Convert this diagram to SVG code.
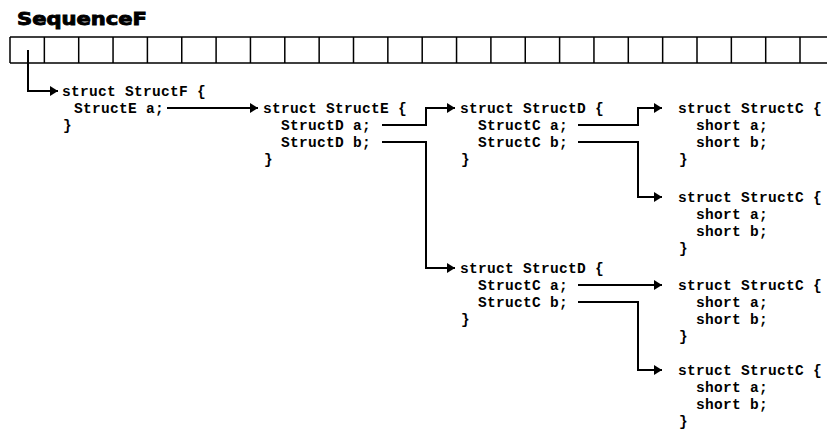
<svg xmlns="http://www.w3.org/2000/svg" width="827" height="434" viewBox="0 0 827 434">
<style>
.t{font-family:"Liberation Mono","DejaVu Sans Mono",monospace;font-weight:bold;font-size:14.5px;letter-spacing:0.3px;fill:#000}
.title{font-family:"DejaVu Sans","Liberation Sans",sans-serif;font-weight:bold;font-size:18px;fill:#000;stroke:#000;stroke-width:0.9}
.c{fill:none;stroke:#000;stroke-width:2}
.bar{fill:none;stroke:#000;stroke-width:1.5}
</style>
<defs>
<marker id="ah" markerUnits="userSpaceOnUse" markerWidth="9" markerHeight="11" refX="8" refY="5.5" orient="auto">
<path d="M0,0.5 L8,5.5 L0,10.5 z" fill="#000"/>
</marker>
</defs>
<rect width="827" height="434" fill="#fff"/>
<text class="title" x="17" y="25" textLength="130" lengthAdjust="spacingAndGlyphs">SequenceF</text>
<g id="sequence">
<path class="bar" d="M10,37 H827 M10,63 H827 M10,37 V63 M44.35,37 V63 M78.7,37 V63 M113.05,37 V63 M147.4,37 V63 M181.75,37 V63 M216.1,37 V63 M250.45,37 V63 M284.8,37 V63 M319.15,37 V63 M353.5,37 V63 M387.85,37 V63 M422.2,37 V63 M456.55,37 V63 M490.9,37 V63 M525.25,37 V63 M559.6,37 V63 M593.95,37 V63 M628.3,37 V63 M662.65,37 V63 M697,37 V63 M731.35,37 V63 M765.7,37 V63 M800,37 V63"/>
</g>
<g id="structF" class="t">
<text x="62" y="96">struct StructF {</text>
<text x="74" y="113">StructE a;</text>
<text x="63" y="130">}</text>
</g>
<g id="structE" class="t">
<text x="263" y="113">struct StructE {</text>
<text x="281" y="130">StructD a;</text>
<text x="281" y="147">StructD b;</text>
<text x="264" y="164">}</text>
</g>
<g id="structD1" class="t">
<text x="460" y="113">struct StructD {</text>
<text x="478" y="130">StructC a;</text>
<text x="478" y="147">StructC b;</text>
<text x="461" y="164">}</text>
</g>
<g id="structD2" class="t">
<text x="460" y="273">struct StructD {</text>
<text x="478" y="290">StructC a;</text>
<text x="478" y="307">StructC b;</text>
<text x="461" y="324">}</text>
</g>
<g id="structC1" class="t">
<text x="678" y="113">struct StructC {</text>
<text x="696" y="130">short a;</text>
<text x="696" y="147">short b;</text>
<text x="679" y="164">}</text>
</g>
<g id="structC2" class="t">
<text x="678" y="202">struct StructC {</text>
<text x="696" y="219">short a;</text>
<text x="696" y="236">short b;</text>
<text x="679" y="253">}</text>
</g>
<g id="structC3" class="t">
<text x="678" y="290">struct StructC {</text>
<text x="696" y="307">short a;</text>
<text x="696" y="324">short b;</text>
<text x="679" y="341">}</text>
</g>
<g id="structC4" class="t">
<text x="678" y="375">struct StructC {</text>
<text x="696" y="392">short a;</text>
<text x="696" y="409">short b;</text>
<text x="679" y="426">}</text>
</g>
<g id="connectors">
<path class="c" marker-end="url(#ah)" d="M28,50 V91 H58"/>
<path class="c" marker-end="url(#ah)" d="M167,108 H258"/>
<path class="c" marker-end="url(#ah)" d="M382,125 H426 V108 H455"/>
<path class="c" marker-end="url(#ah)" d="M382,142 H426 V268 H455"/>
<path class="c" marker-end="url(#ah)" d="M578,125 H638 V108 H662"/>
<path class="c" marker-end="url(#ah)" d="M578,142 H638 V197 H662"/>
<path class="c" marker-end="url(#ah)" d="M578,285 H662"/>
<path class="c" marker-end="url(#ah)" d="M578,302 H638 V370 H662"/>
</g>
</svg>
